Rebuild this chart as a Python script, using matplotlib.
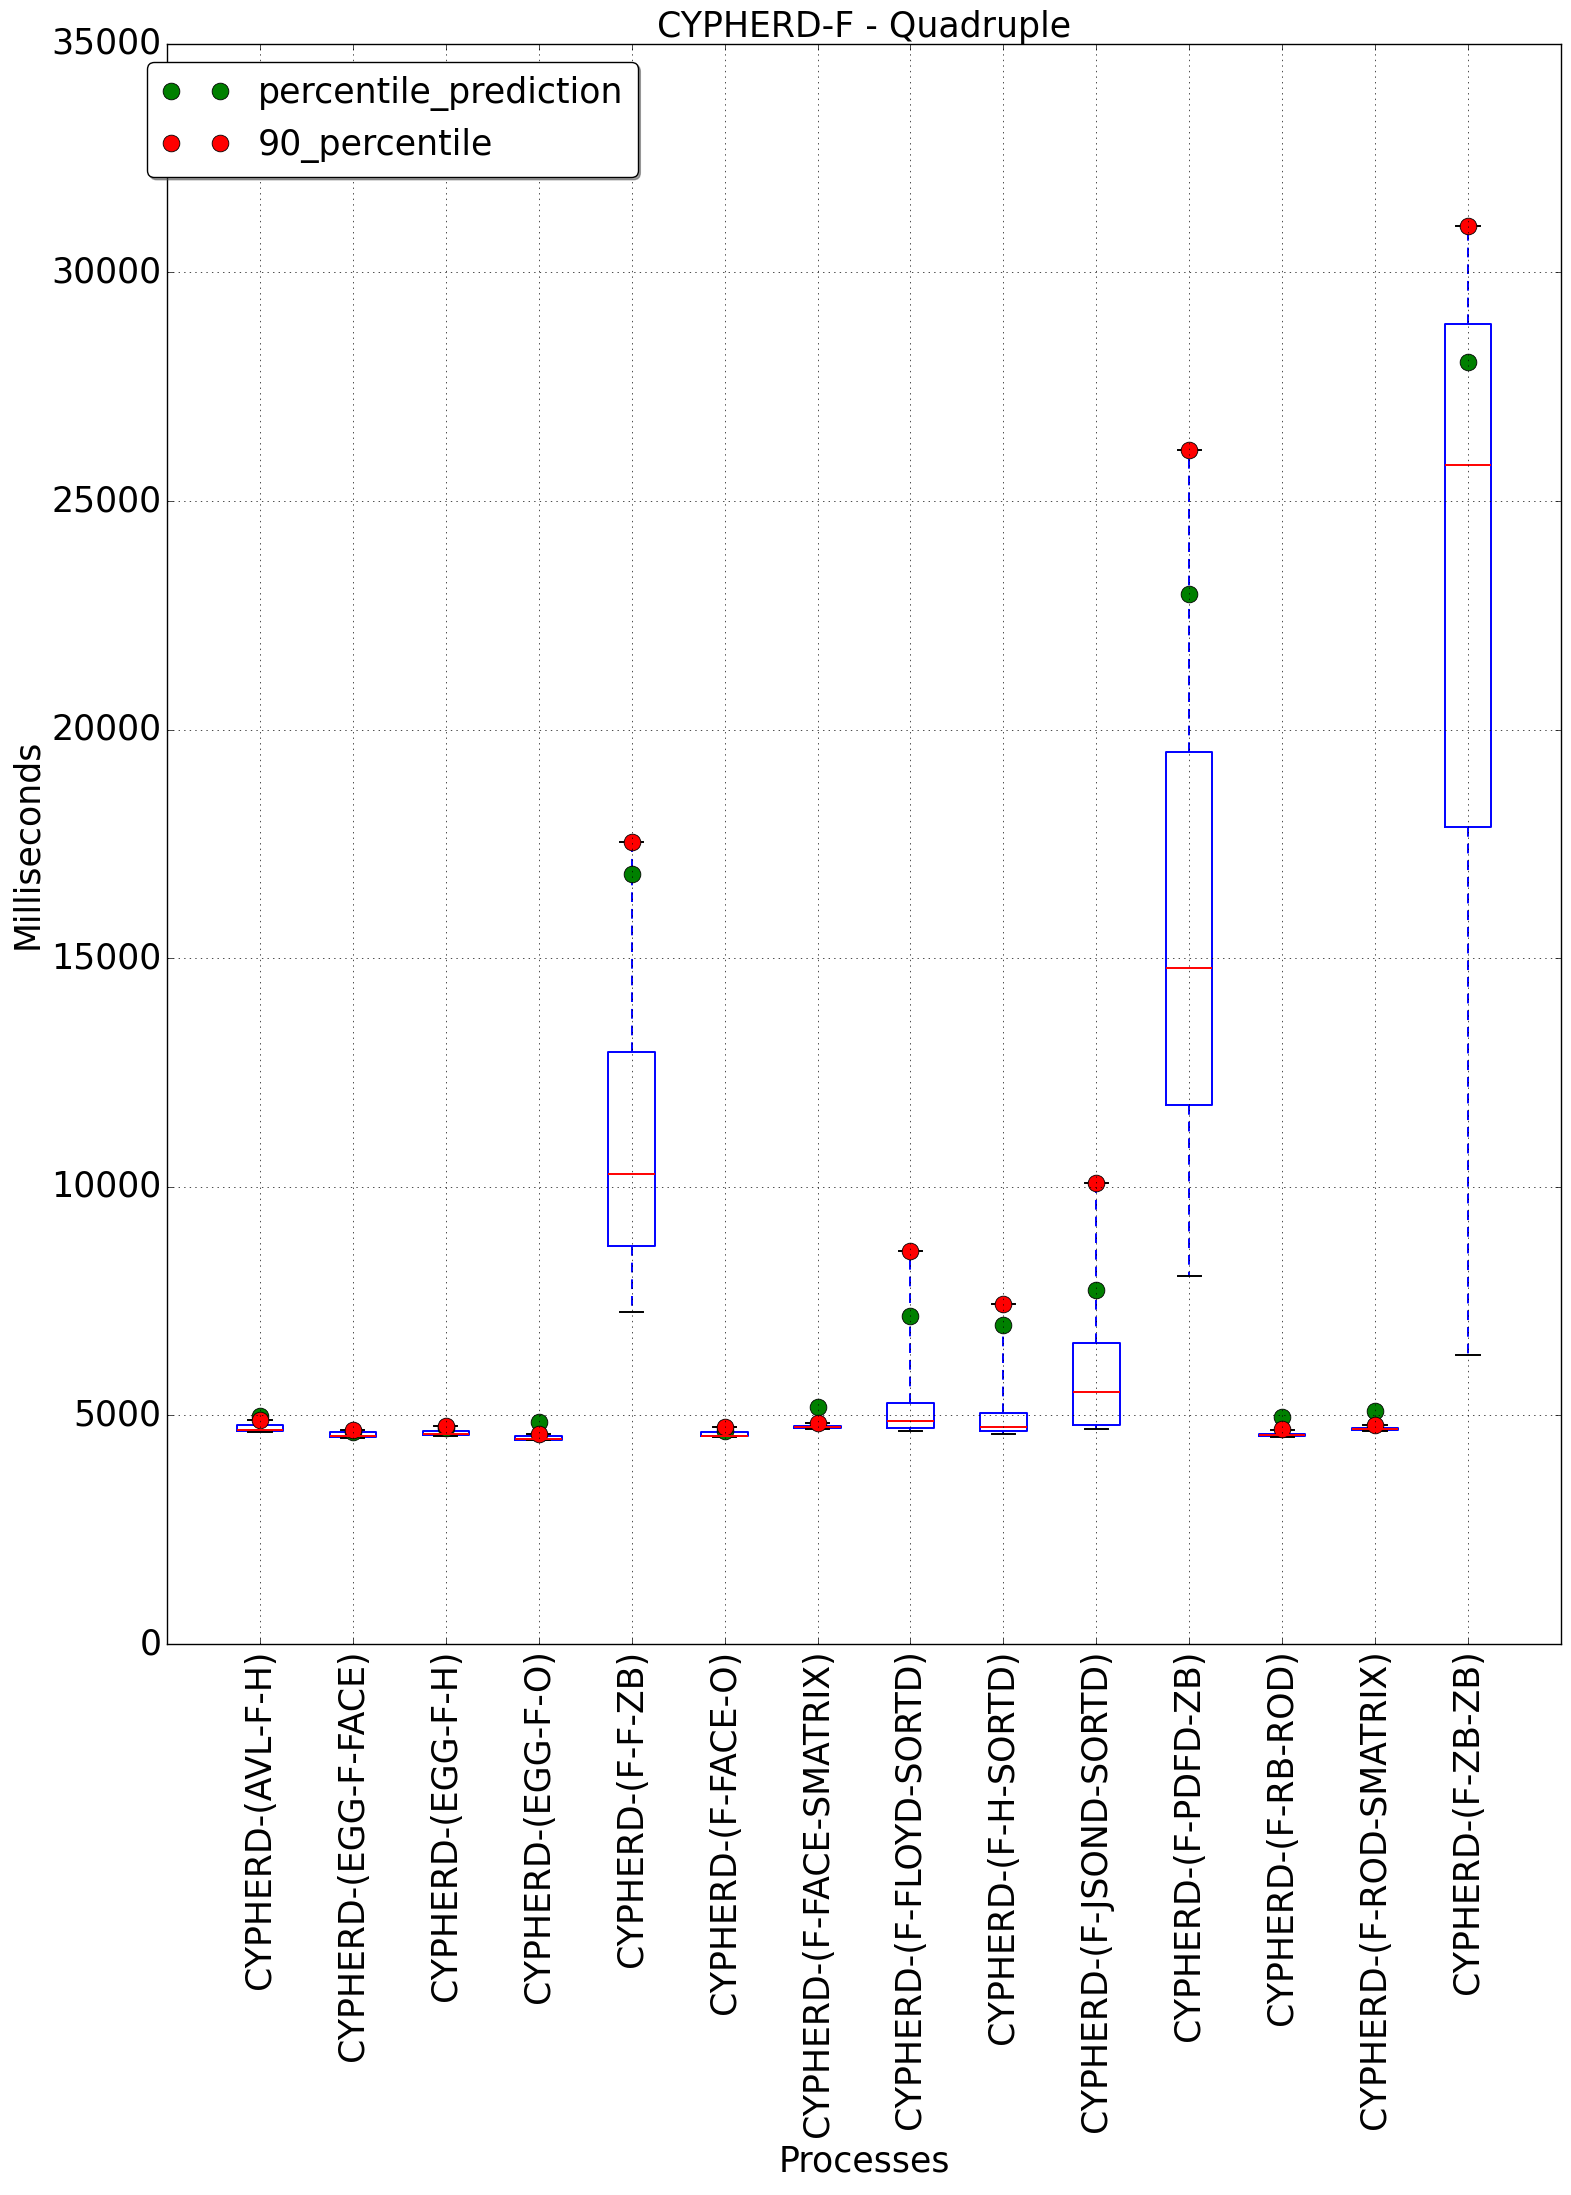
"""CYPHERD-F quadruple: runtime boxplots with percentile markers."""

import matplotlib
matplotlib.use("Agg")
import matplotlib.pyplot as plt

plt.style.use("classic")
plt.rcParams["font.size"] = 25

processes = [
    "CYPHERD-(AVL-F-H)", "CYPHERD-(EGG-F-FACE)", "CYPHERD-(EGG-F-H)",
    "CYPHERD-(EGG-F-O)", "CYPHERD-(F-F-ZB)", "CYPHERD-(F-FACE-O)",
    "CYPHERD-(F-FACE-SMATRIX)", "CYPHERD-(F-FLOYD-SORTD)", "CYPHERD-(F-H-SORTD)",
    "CYPHERD-(F-JSOND-SORTD)", "CYPHERD-(F-PDFD-ZB)", "CYPHERD-(F-RB-ROD)",
    "CYPHERD-(F-ROD-SMATRIX)", "CYPHERD-(F-ZB-ZB)",
]

# box statistics (ms)
whislo = [4643, 4510, 4548, 4460, 7260, 4533, 4702, 4658, 4593, 4702, 8050, 4533, 4658, 6330]
q1     = [4671, 4533, 4570, 4460, 8700, 4555, 4724, 4724, 4658, 4789, 11790, 4548, 4680, 17880]
med    = [4680, 4545, 4590, 4475, 10290, 4560, 4746, 4877, 4746, 5512, 14790, 4570, 4700, 25780]
q3     = [4796, 4643, 4665, 4548, 12950, 4636, 4768, 5271, 5052, 6585, 19505, 4600, 4731, 28875]
whishi = [4891, 4687, 4768, 4592, 17550, 4737, 4833, 8605, 7445, 10087, 26120, 4680, 4790, 31020]

# markers
p90        = [4891, 4687, 4768, 4592, 17550, 4737, 4833, 8605, 7445, 10087, 26120, 4702, 4790, 31020]
prediction = [4990, 4628, 4735, 4862, 16840, 4650, 5175, 7176, 6985, 7745, 22965, 4956, 5103, 28048]

positions = list(range(1, len(processes) + 1))
stats = [
    {"whislo": lo, "q1": a, "med": m, "q3": b, "whishi": hi, "fliers": [], "label": name}
    for lo, a, m, b, hi, name in zip(whislo, q1, med, q3, whishi, processes)
]

fig = plt.figure(figsize=(15.71, 21.95), dpi=100)
ax = fig.add_axes([0.1063, 0.251, 0.8873, 0.729])

lw = 1.4
ax.bxp(stats, positions=positions, widths=0.5, showfliers=False,
       boxprops=dict(color="b", linewidth=lw),
       whiskerprops=dict(color="b", linestyle=(0, (7, 5)), linewidth=lw),
       capprops=dict(color="k", linewidth=lw),
       medianprops=dict(color="r", linewidth=lw))

ax.plot(positions, prediction, "o", color="green", markersize=12,
        markeredgecolor="k", markeredgewidth=0.6, linestyle="none",
        label="percentile_prediction")
ax.plot(positions, p90, "o", color="red", markersize=12,
        markeredgecolor="k", markeredgewidth=0.6, linestyle="none",
        label="90_percentile")

ax.set_xlim(0, 15)
ax.set_ylim(0, 35000)
ax.set_yticks(range(0, 35001, 5000))
ax.set_xticks(positions)
ax.set_xticklabels(processes, rotation=90)
ax.grid(True)

ax.set_title("CYPHERD-F - Quadruple", fontsize=25)
ax.set_xlabel("Processes", fontsize=25)
ax.set_ylabel("Milliseconds", fontsize=25)

ax.legend(loc="upper left", bbox_to_anchor=(-0.0143, 0.9888), borderaxespad=0,
          numpoints=2, fancybox=True, shadow=True, fontsize=25)

fig.savefig("out.png", dpi=100)
